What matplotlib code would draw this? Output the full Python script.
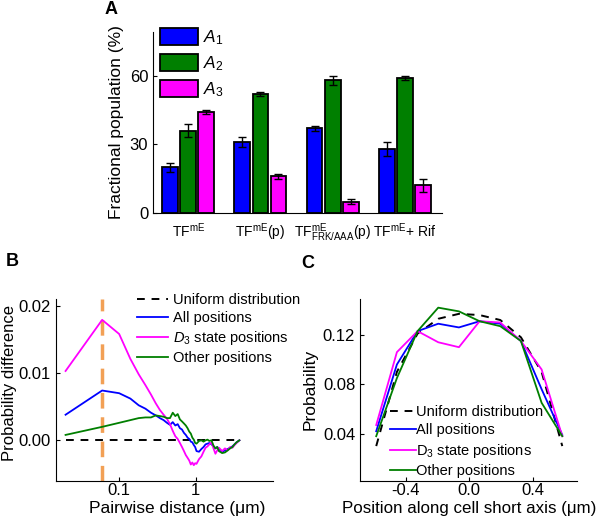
import numpy as np
import matplotlib
matplotlib.use("Agg")
import matplotlib.pyplot as plt

plt.rcParams['font.family'] = ['Liberation Sans', 'DejaVu Sans']
plt.rcParams['mathtext.fontset'] = 'custom'
plt.rcParams['mathtext.rm'] = 'Liberation Sans'
plt.rcParams['mathtext.it'] = 'Liberation Sans:italic'
plt.rcParams['font.size'] = 12
plt.rcParams['axes.labelsize'] = 12.5

# ---- Panel A data ----
groups = ['TF$^{\\mathrm{mE}}$', 'TF$^{\\mathrm{mE}}$(p)',
          'TF$^{\\mathrm{mE}}_{\\mathrm{FRK/AAA}}$(p)', 'TF$^{\\mathrm{mE}}$+ Rif']
a1 = [20, 31, 37, 28]
a1_err = [2, 2, 1, 3]
a2 = [36, 52, 58, 59]
a2_err = [3, 1, 2, 1]
a3 = [44, 16, 5, 12]
a3_err = [1, 1, 1, 3]

# ---- Panel B data ----
dist = [0.02, 0.06, 0.10, 0.14, 0.18, 0.22, 0.26, 0.30, 0.34, 0.38, 0.42, 0.46,
        0.50, 0.54, 0.58, 0.62, 0.66, 0.70, 0.74, 0.78, 0.82, 0.86, 0.90, 0.94,
        0.98, 1.02, 1.10, 1.18, 1.26, 1.34, 1.42, 1.50, 1.60, 1.70, 1.80, 1.90,
        2.0, 2.2, 2.4, 2.6, 2.8, 3.0, 3.2, 3.4, 3.7]
diff_all = [0.0038, 0.0074, 0.0070, 0.0062, 0.0052, 0.0047, 0.0041, 0.0037, 0.0033,
            0.0030, 0.0026, 0.0023, 0.0027, 0.0022, 0.0024, 0.0018, 0.0016, 0.0011,
            0.0008, 0.0004, 0.0002, -0.0002, -0.0003, -0.0007, -0.0010, -0.0016,
            -0.0017, -0.0013, -0.0010, -0.0006, -0.0005, -0.0004, -0.0006, -0.0009,
            -0.0012, -0.0010, -0.0013, -0.0017, -0.0015, -0.0013, -0.0011, -0.0009,
            -0.0006, -0.0003, 0.0]
diff_d3 = [0.0103, 0.0179, 0.0158, 0.0121, 0.0098, 0.0082, 0.0068, 0.0055, 0.0045,
           0.0038, 0.0032, 0.0024, 0.0014, 0.0006, 0.0002, -0.0004, -0.0010, -0.0016,
           -0.0022, -0.0026, -0.0030, -0.0036, -0.0033, -0.0037, -0.0034, -0.0035,
           -0.0028, -0.0024, -0.0017, -0.0011, -0.0009, -0.0006, -0.0003, -0.0012,
           -0.0020, -0.0015, -0.0011, -0.0016, -0.0012, -0.0015, -0.0010, -0.0011,
           -0.0007, -0.0004, 0.0]
diff_other = [0.0008, 0.0020, 0.0026, 0.0030, 0.0033, 0.0034, 0.0034, 0.0037, 0.0036,
              0.0035, 0.0033, 0.0033, 0.0041, 0.0036, 0.0039, 0.0031, 0.0028, 0.0025,
              0.0022, 0.0018, 0.0013, 0.0010, 0.0004, 0.0001, -0.0004, -0.0005,
              -0.0001, 0.0000, -0.0002, 0.0000, 0.0001, -0.0001, 0.0000, -0.0008,
              -0.0012, -0.0010, -0.0016, -0.0019, -0.0018, -0.0015, -0.0012, -0.0010,
              -0.0006, -0.0003, 0.0]
peak_dist = 0.06

# ---- Panel C data ----
pos = [-0.585, -0.455, -0.325, -0.195, -0.065, 0.065, 0.195, 0.325, 0.455, 0.585]
p_uniform = [0.030, 0.090, 0.121, 0.133, 0.137, 0.136, 0.132, 0.118, 0.090, 0.030]
p_all = [0.042, 0.096, 0.123, 0.129, 0.126, 0.131, 0.129, 0.115, 0.076, 0.039]
p_d3 = [0.047, 0.106, 0.123, 0.114, 0.110, 0.131, 0.130, 0.115, 0.092, 0.038]
p_other = [0.038, 0.085, 0.123, 0.142, 0.139, 0.131, 0.127, 0.115, 0.065, 0.038]

blue, green, magenta = '#0000ff', '#007f00', '#ff00ff'

fig = plt.figure(figsize=(6, 5.21), dpi=100)

# ---------- A ----------
axA = fig.add_axes([0.255, 0.5912, 0.482, 0.3474])
x = np.arange(len(groups))
w = 0.22
err_kw = dict(ecolor='black', elinewidth=1, capsize=3, capthick=1)
axA.bar(x - 0.25, a1, w, yerr=a1_err, color=blue, edgecolor='black', lw=1.3,
        error_kw=err_kw, label='$A_1$')
axA.bar(x, a2, w, yerr=a2_err, color=green, edgecolor='black', lw=1.3,
        error_kw=err_kw, label='$A_2$')
axA.bar(x + 0.25, a3, w, yerr=a3_err, color=magenta, edgecolor='black', lw=1.3,
        error_kw=err_kw, label='$A_3$')
axA.set_xlim(-0.49, 3.52)
axA.set_ylim(0, 79)
axA.set_yticks([0, 30, 60])
axA.set_xticks(x)
axA.set_xticklabels(groups, fontsize=10)
axA.tick_params(axis='x', length=0, pad=6)
axA.tick_params(axis='y', direction='in', length=3)
axA.spines[['top', 'right']].set_visible(False)
axA.set_ylabel('Fractional population (%)')
axA.legend(loc='upper left', bbox_to_anchor=(0.025, 1.02), frameon=False,
           fontsize=12.5, handlelength=2.2, handleheight=1.1, handletextpad=0.25,
           labelspacing=0.4, borderpad=0, borderaxespad=0)

# ---------- B ----------
axB = fig.add_axes([0.0933, 0.0774, 0.362, 0.3487])
axB.axvline(peak_dist, color='#f2a055', lw=2.5, ls=(0, (4.5, 2.5)), zorder=1)
axB.plot(dist, np.zeros(len(dist)), color='black', lw=1.4, ls=(0, (4, 3.5)),
         label='Uniform distribution')
axB.plot(dist, diff_all, color=blue, lw=1.3, label='All positions')
axB.plot(dist, diff_d3, color=magenta, lw=1.3, label='$D_3$ state positions')
axB.plot(dist, diff_other, color=green, lw=1.3, label='Other positions')
axB.set_xscale('log')
axB.set_xlim(0.015, 10.2)
axB.set_ylim(-0.006, 0.021)
axB.set_xticks([0.1, 1])
axB.set_xticklabels(['0.1', '1'])
axB.minorticks_off()
axB.set_yticks([0, 0.01, 0.02])
axB.set_yticklabels(['0.00', '0.01', '0.02'])
axB.tick_params(direction='in', length=3)
axB.tick_params(axis='x', pad=2)
axB.spines[['top', 'right']].set_visible(False)
axB.set_xlabel('Pairwise distance (\u03bcm)', va='top')
axB.set_ylabel('Probability difference', fontsize=12)
axB.yaxis.set_label_coords(-0.18, 0.54)
axB.xaxis.set_label_coords(0.559, -0.112)
axB.legend(loc='upper left', bbox_to_anchor=(137 / 600, 1 - 293 / 521),
           bbox_transform=fig.transFigure, frameon=False, fontsize=10.5,
           handlelength=2.1, handletextpad=0.4, labelspacing=0.28, borderpad=0,
           borderaxespad=0)

# ---------- C ----------
axC = fig.add_axes([0.6, 0.0774, 0.361, 0.3487])
axC.plot(pos, p_uniform, color='black', lw=1.4, ls=(0, (4, 3.5)),
         label='Uniform distribution')
axC.plot(pos, p_all, color=blue, lw=1.3, label='All positions')
axC.plot(pos, p_d3, color=magenta, lw=1.3, label='D$_3$ state positions')
axC.plot(pos, p_other, color=green, lw=1.3, label='Other positions')
axC.set_xlim(-0.687, 0.675)
axC.set_ylim(0.002, 0.149)
axC.set_xticks([-0.4, 0.0, 0.4])
axC.set_xticklabels(['-0.4', '0.0', '0.4'])
axC.set_yticks([0.04, 0.08, 0.12])
axC.tick_params(direction='in', length=3)
axC.tick_params(axis='x', pad=2)
axC.spines[['top', 'right']].set_visible(False)
axC.set_xlabel('Position along cell short axis (\u03bcm)', va='top', fontsize=12.2)
axC.xaxis.set_label_coords(0.505, -0.112)
axC.set_ylabel('Probability')
axC.legend(loc='upper left', bbox_to_anchor=(390 / 600, 1 - 405 / 521),
           bbox_transform=fig.transFigure, frameon=False, fontsize=10.5,
           handlelength=1.8, handletextpad=0.0, labelspacing=0.3, borderpad=0,
           borderaxespad=0)

# panel letters
fig.text(111 / 600, 1 - 10 / 521, 'A', fontsize=13, fontweight='bold',
         ha='center', va='center')
fig.text(12 / 600, 1 - 262 / 521, 'B', fontsize=13, fontweight='bold',
         ha='center', va='center')
fig.text(308 / 600, 1 - 263 / 521, 'C', fontsize=13, fontweight='bold',
         ha='center', va='center')

fig.savefig('out.png', dpi=100)
